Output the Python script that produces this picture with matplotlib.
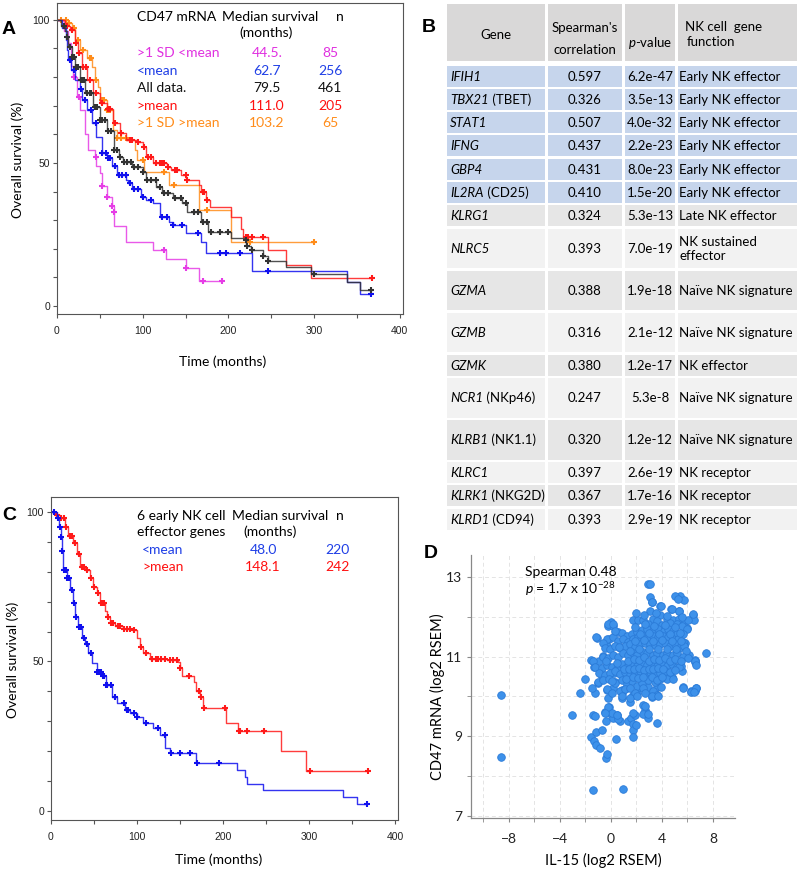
import numpy as np
import matplotlib
matplotlib.use("Agg")
import matplotlib.pyplot as plt
from matplotlib.patches import Rectangle
from matplotlib.ticker import FixedLocator

plt.rcParams['font.family'] = ['Lato', 'DejaVu Sans']
plt.rcParams['mathtext.fontset'] = 'custom'
plt.rcParams['mathtext.rm'] = 'Lato'
plt.rcParams['mathtext.it'] = 'Lato:italic'
plt.rcParams['mathtext.bf'] = 'Lato:bold'

# ---------------- panel A : CD47 mRNA groups (time, survival %) ----------------
mag_t = [0, 8, 13, 16, 19, 23, 27, 33, 36, 44, 46, 50, 52, 58, 64, 66, 67, 81, 112, 127, 150, 166, 193]
mag_s = [100, 96, 92, 84, 80, 73, 68.5, 60, 54.5, 52, 49, 46.5, 42, 38, 35, 33, 28, 22.4, 19.6, 16.4, 13.3, 8.7, 8.7]
mag_c = [20, 26, 45, 52, 58, 64, 66, 125, 150, 170, 193]

blu_t = [0, 6, 10, 12, 13, 16, 21, 27, 29, 35, 41, 46, 52, 58, 64, 70, 81, 83, 88, 98, 104, 112, 120, 131, 135,
         151, 168, 174, 228, 338, 354, 366]
blu_s = [100, 97, 93, 89.5, 86, 82.5, 79, 76, 72, 68.5, 64, 59, 53.5, 51.7, 49, 45.8, 44, 43, 41, 38, 37, 36, 31,
         29.4, 28.3, 25.5, 22.4, 18.5, 12.2, 8.4, 4.2, 4.2]
blu_c = [15, 20, 28, 33, 40, 45, 53, 57, 60, 62, 68, 72, 76, 80, 85, 90, 95, 100, 110, 122, 128, 135, 146, 165,
         190, 197, 213, 246, 366]

all_t = [0, 5, 9, 12, 13, 17, 21, 27, 33, 42, 50, 58, 66, 72, 77, 88, 100, 104, 116, 123, 135, 146, 152, 168, 176,
         203, 219, 221, 226, 240, 246, 267, 296, 338, 354, 366]
all_s = [100, 98, 96, 94, 90.6, 87, 83.6, 79, 74.5, 69.6, 65, 61, 54.5, 52, 50.3, 48.6, 46.9, 44, 41.6, 39.5, 37.8,
         36, 32.9, 29.4, 25.9, 23.7, 23, 21, 19.6, 17.5, 15.7, 13.6, 11.2, 8.4, 5.6, 5.6]
all_c = [8, 12, 15, 18, 20, 22, 25, 28, 30, 32, 35, 38, 40, 44, 47, 50, 53, 56, 60, 63, 66, 70, 74, 78, 82, 86, 90,
         95, 100, 105, 110, 115, 120, 125, 130, 138, 145, 150, 160, 165, 170, 175, 180, 190, 200, 220, 222, 228,
         240, 246, 300, 366]

red_t = [0, 9, 15, 21, 24.5, 29, 35, 42, 50, 58, 65, 73, 81, 93, 100, 104, 112, 128, 133, 145, 151, 166, 168, 174,
         178, 203, 215, 217, 246, 267, 296, 367]
red_s = [100, 98, 96.5, 92, 88.5, 83.6, 79, 74.5, 71, 69, 64, 60.5, 58, 57.3, 55.6, 52, 50, 48.6, 47.5, 45.8, 44,
         42.3, 40, 37, 34.6, 31, 27, 24, 19.6, 14.3, 9.8, 9.8]
red_c = [12, 18, 22, 26, 30, 34, 38, 45, 52, 60, 62, 68, 75, 85, 88, 95, 102, 106, 110, 115, 120, 122, 125, 130,
         138, 140, 150, 152, 170, 172, 175, 220, 223, 227, 240, 367]

org_t = [0, 13, 17, 21, 27, 35, 41, 44, 48, 50, 58, 65, 70, 81, 91, 93, 102, 131, 166, 203, 300]
org_s = [100, 99, 97, 93, 89.5, 86.7, 83.6, 79, 76.6, 72, 68.5, 61.5, 58.7, 58, 54.5, 51, 47, 42.3, 33.6, 22.4, 22.4]
org_c = [5, 10, 14, 20, 25, 30, 38, 40, 45, 52, 55, 58, 60, 62, 70, 75, 80, 100, 125, 137, 175, 225, 300]

a_groups = ['>1 SD <mean', '<mean', 'All data.', '>mean', '>1 SD >mean']
a_median = ['44.5.', '62.7', '79.5', '111.0', '103.2']
a_n = ['85', '256', '461', '205', '65']
a_colors = ['#e030e0', '#1f3fe6', '#111111', '#ff1010', '#ff8c1a']

# ---------------- panel C : 6 early NK effector genes ----------------
clo_t = [0, 7, 9, 11.6, 12.8, 14, 18.6, 22, 25.6, 28, 31, 36, 40, 43, 47.7, 53, 59, 64, 71, 77, 86, 92, 100, 107,
         119, 127, 133, 138, 169, 216, 226, 228, 247, 339, 356, 367]
clo_s = [100, 98, 95, 91.6, 87, 80.6, 78, 74, 69.6, 65, 61.5, 58, 56, 52.8, 49.5, 46.5, 45, 42, 38, 36, 33.8, 32.8,
         31.4, 29.4, 27.8, 25.4, 21, 19.4, 16, 13.7, 11.4, 9, 7, 4.7, 2.3, 2.3]
clo_c = [3, 8, 10, 12, 13, 15, 17, 19, 21, 24, 27, 29, 33, 35, 38, 42, 46, 53, 56, 58, 60, 62, 64, 65, 70, 75, 85,
         88, 90, 97, 100, 110, 125, 132, 140, 150, 162, 170, 195, 367]

chi_t = [0, 5, 10.5, 16, 20, 26, 30, 34, 40, 45, 49, 53, 57, 63, 65, 69, 74, 84, 94, 100, 103.5, 107, 115, 135,
         148, 150, 152, 166, 169, 173, 177, 204, 218, 268, 297, 369]
chi_s = [100, 99, 98, 95, 92, 89.6, 86, 81.6, 80.6, 78, 75, 73, 69.6, 67, 65, 63, 62, 61, 60.5, 58, 55, 52.8, 51,
         50.5, 49.8, 47.8, 45, 43, 40, 38, 34.4, 29.4, 26.8, 20, 13.4, 13.4]
chi_c = [7, 12, 15, 18, 22, 25, 28, 32, 36, 38, 42, 47, 50, 55, 58, 60, 62, 66, 70, 72, 78, 80, 85, 88, 92, 96, 105,
         110, 118, 122, 125, 128, 132, 138, 142, 146, 150, 160, 172, 175, 178, 202, 219, 220, 228, 248, 301, 369]

c_groups = ['<mean', '>mean']
c_median = ['48.0', '148.1']
c_n = ['220', '242']
c_colors = ['#1f3fe6', '#ff1010']

# ---------------- panel B : table ----------------
genes = ['IFIH1', 'TBX21', 'STAT1', 'IFNG', 'GBP4', 'IL2RA', 'KLRG1', 'NLRC5', 'GZMA', 'GZMB', 'GZMK', 'NCR1',
         'KLRB1', 'KLRC1', 'KLRK1', 'KLRD1']
aliases = ['', 'TBET', '', '', '', 'CD25', '', '', '', '', '', 'NKp46', 'NK1.1', '', 'NKG2D', 'CD94']
spearman = [0.597, 0.326, 0.507, 0.437, 0.431, 0.410, 0.324, 0.393, 0.388, 0.316, 0.380, 0.247, 0.320, 0.397,
            0.367, 0.393]
pvals = ['6.2e-47', '3.5e-13', '4.0e-32', '2.2e-23', '8.0e-23', '1.5e-20', '5.3e-13', '7.0e-19', '1.9e-18',
         '2.1e-12', '1.2e-17', '5.3e-8', '1.2e-12', '2.6e-19', '1.7e-16', '2.9e-19']
functions = ['Early NK effector'] * 6 + ['Late NK effector', 'NK sustained\neffector', 'Naïve NK signature',
                                         'Naïve NK signature', 'NK effector', 'Naïve NK signature',
                                         'Naïve NK signature', 'NK receptor', 'NK receptor', 'NK receptor']

# ---------------- panel D : IL-15 vs CD47 (log2 RSEM) ----------------
d_points = [
    (-8.65, 10.03), (-8.65, 8.47), (-3.03, 9.54), (-2.43, 10.09), (-1.39, 7.65), (0.97, 7.67),
    (2.93, 12.81), (3.06, 12.82), (7.43, 11.08), (5.44, 12.52), (5.76, 12.42), (3.1, 12.49), (3.2, 12.36),
    (3.85, 12.27), (4.74, 12.2), (5.3, 12.14), (6.4, 12.05), (3.1, 12.15),
    (-1.57, 10.92), (-1.12, 11.47), (-2.01, 10.44), (-1.33, 10.74), (-0.94, 10.89), (-1.25, 10.08),
    (-1.51, 10.21), (-1.04, 10.34), (-0.72, 10.51), (-0.6, 11.01), (-0.34, 11.26), (-0.16, 11.43),
    (0.0, 11.88), (-0.26, 11.78), (0.13, 11.78),
    (-1.41, 9.54), (-1.28, 9.5), (-1.54, 8.99), (-1.33, 8.88), (-1.17, 8.78), (-0.89, 8.71), (-1.15, 9.11),
    (-0.68, 9.17), (-0.5, 9.6), (-0.42, 9.38), (-0.42, 8.45), (-0.31, 8.56), (-0.16, 9.73), (0.0, 9.56),
    (0.13, 9.46), (0.39, 8.93), (0.5, 9.54), (0.7, 9.39), (0.56, 9.43), (-0.21, 9.97), (-0.34, 10.17),
    (-0.03, 10.14), (0.24, 10.59), (0.58, 10.7), (0.13, 10.22), (0.34, 10.37), (0.86, 9.97), (0.84, 10.15),
    (0.89, 10.09), (1.17, 10.22), (1.36, 9.38), (1.54, 9.45), (1.7, 9.31), (1.88, 9.54), (1.75, 9.16),
    (1.7, 8.98), (1.93, 9.29), (1.49, 9.87), (1.75, 10.04), (2.06, 10.08), (2.22, 10.25), (2.53, 9.79),
    (2.66, 9.66), (2.79, 9.55), (2.92, 9.45), (2.72, 10.14), (2.92, 10.24), (3.18, 9.98), (3.44, 10.08),
    (3.65, 10.25), (3.9, 10.24), (3.57, 10.4), (4.21, 10.48), (4.81, 10.48), (3.65, 9.33), (5.62, 10.25),
    (6.67, 10.22), (6.28, 10.14), (6.56, 10.14), (5.59, 10.63), (6.62, 10.86), (6.56, 10.92), (6.15, 11.05),
    (5.83, 11.34), (5.96, 11.71), (6.48, 11.93),
    (3.24, 12.37), (5.02, 12.52), (5.28, 12.44), (3.92, 12.28), (4.76, 12.2), (5.3, 12.14), (6.42, 12.07),
    (3.87, 12.04), (1.75, 11.93), (2.14, 11.92), (2.53, 11.93), (3.27, 11.95), (3.58, 11.9), (4.37, 11.95),
    (4.89, 11.92), (5.36, 11.95), (5.8, 11.9), (6.06, 11.92), (-0.2, 11.81), (0.14, 11.81), (2.93, 11.81),
    (3.97, 11.79), (4.63, 11.85), (5.15, 11.83), (5.54, 11.76), (5.93, 11.69), (0.57, 11.62), (0.83, 11.6),
    (1.23, 11.52), (1.62, 11.56), (2.01, 11.62), (2.4, 11.67), (2.8, 11.69), (3.32, 11.64), (3.71, 11.69),
    (4.16, 11.64), (4.5, 11.69), (4.84, 11.64), (5.2, 11.58), (5.67, 11.56), (-1.17, 11.48), (-0.34, 11.43),
    (-0.6, 11.35), (0.19, 11.48), (0.57, 11.4), (0.97, 11.43), (1.36, 11.37), (1.75, 11.45), (2.14, 11.48),
    (2.53, 11.52), (2.93, 11.48), (3.32, 11.52), (3.71, 11.48), (4.1, 11.52), (4.5, 11.48), (4.89, 11.43),
    (5.28, 11.45), (5.67, 11.37), (-0.47, 11.22), (-0.08, 11.18), (0.32, 11.27), (0.71, 11.22), (1.1, 11.27),
    (1.49, 11.31), (1.88, 11.25), (2.27, 11.31), (2.67, 11.35), (3.06, 11.31), (3.45, 11.29), (3.84, 11.31),
    (4.24, 11.35), (4.63, 11.27), (5.02, 11.31), (5.36, 11.22), (5.72, 11.27), (5.88, 11.14), (-1.39, 10.9),
    (-0.6, 11.0), (-0.21, 10.96), (0.19, 11.04), (0.58, 11.0), (0.97, 11.08), (1.36, 11.04), (1.7, 11.1),
    (2.06, 11.04), (2.48, 11.12), (2.85, 11.08), (3.27, 11.04), (3.63, 11.1), (4.05, 11.04), (4.42, 11.08),
    (4.84, 11.04), (5.2, 11.08), (5.62, 11.0), (6.06, 10.96), (6.58, 10.88), (6.66, 10.79), (-1.26, 10.73),
    (-0.73, 10.71), (-0.34, 10.79), (0.06, 10.75), (0.45, 10.69), (0.84, 10.81), (1.23, 10.75), (1.62, 10.83),
    (2.01, 10.77), (2.4, 10.85), (2.8, 10.79), (3.19, 10.85), (3.58, 10.77), (3.97, 10.83), (4.37, 10.77),
    (4.76, 10.81), (5.15, 10.75), (5.46, 10.77), (-0.92, 10.6), (-0.47, 10.54), (-0.08, 10.6), (0.32, 10.64),
    (0.71, 10.56), (1.1, 10.62), (1.49, 10.54), (1.88, 10.6), (2.27, 10.64), (2.67, 10.56), (3.06, 10.62),
    (3.45, 10.54), (3.84, 10.6), (4.24, 10.64), (4.42, 10.43), (4.89, 10.45), (5.36, 10.73), (-1.0, 10.37),
    (-0.6, 10.42), (-0.13, 10.43), (0.32, 10.35), (0.84, 10.42), (1.23, 10.31), (1.62, 10.39), (2.01, 10.26),
    (2.4, 10.35), (2.93, 10.42), (3.45, 10.37), (3.84, 10.45), (5.64, 10.22), (6.27, 10.11), (6.69, 10.2),
    (6.53, 10.11), (-0.34, 10.18), (0.06, 10.09), (0.71, 10.14), (1.1, 10.18), (1.49, 10.2), (1.88, 10.09),
    (2.53, 10.2), (2.67, 10.09), (3.32, 10.14), (3.58, 10.03), (3.19, 10.0), (3.71, 10.0), (0.84, 10.0),
    (1.49, 9.97), (2.01, 10.0), (2.67, 9.77), (-0.21, 9.73), (0.06, 9.58), (-0.47, 9.58), (0.45, 9.53),
    (1.75, 9.58), (2.53, 9.56), (2.93, 9.56),
    (1.9, 11.75), (2.3, 11.58), (2.7, 11.82), (3.0, 11.6), (3.4, 11.78), (3.8, 11.56), (4.2, 11.8), (4.6, 11.58),
    (5.0, 11.75), (5.4, 11.6), (1.5, 11.15), (1.9, 11.38), (2.2, 11.2), (2.6, 11.42), (3.0, 11.18), (3.3, 11.4),
    (3.7, 11.2), (4.0, 11.42), (4.4, 11.18), (4.8, 11.38), (5.1, 11.18), (5.5, 11.4), (1.3, 10.9), (1.8, 10.95),
    (2.2, 10.92), (2.6, 10.98), (3.0, 10.9), (3.4, 10.95), (3.8, 10.92), (4.2, 10.96), (4.6, 10.9), (5.0, 10.94),
    (5.5, 10.9), (1.0, 10.68), (1.4, 10.7), (1.8, 10.68), (2.2, 10.72), (2.6, 10.66), (3.0, 10.7), (3.3, 10.68),
    (3.7, 10.72), (4.1, 10.68), (4.6, 10.62), (5.0, 10.66), (1.2, 10.45), (1.7, 10.48), (2.1, 10.47),
    (2.5, 10.48), (3.2, 10.5), (3.6, 10.42), (4.0, 10.5), (2.0, 12.1), (2.6, 12.05), (3.5, 12.1), (4.4, 12.02),
    (5.6, 12.0), (0.3, 11.65), (0.6, 11.25), (0.1, 10.4), (0.5, 10.85), (-0.4, 10.9),
]
il15 = [p[0] for p in d_points]
cd47 = [p[1] for p in d_points]

fig = plt.figure(figsize=(8, 8.75), dpi=100)


def px(x0, y0, x1, y1):
    # pixel box (top-left origin) -> figure rect
    return [x0 / 800, 1 - y1 / 875, (x1 - x0) / 800, (y1 - y0) / 875]


def km_axes(rect, xmax, ylim):
    ax = fig.add_axes(rect)
    ax.set_xlim(0, xmax)
    ax.set_ylim(*ylim)
    for sp in ax.spines.values():
        sp.set_color('#555555')
        sp.set_linewidth(0.8)
    ax.xaxis.set_major_locator(FixedLocator([0, 100, 200, 300, 400]))
    ax.xaxis.set_minor_locator(FixedLocator([50, 150, 250, 350]))
    ax.yaxis.set_major_locator(FixedLocator([0, 50, 100]))
    ax.yaxis.set_minor_locator(FixedLocator([10, 20, 30, 40, 60, 70, 80, 90]))
    ax.tick_params(which='both', direction='out', length=3, width=0.8, color='#555555',
                   labelsize=7.5, labelcolor='#222222', labelfontfamily='Liberation Sans')
    ax.tick_params(axis='x', pad=6)
    ax.tick_params(axis='y', pad=2)
    return ax


def km(ax, t, s, cens, color):
    t = np.asarray(t, float)
    s = np.asarray(s, float)
    ax.step(t, s, where='post', color=color, lw=1.0, alpha=0.85)
    idx = np.searchsorted(t, cens, side='right') - 1
    ax.plot(cens, s[idx], '+', color=color, ms=5, mew=1.5, ls='none')


# panel A
axA = km_axes(px(57, 3, 403, 314), 403.7, (-2.8, 105.9))
km(axA, mag_t, mag_s, mag_c, '#e63ce6')
km(axA, org_t, org_s, org_c, '#ff8c1a')
km(axA, red_t, red_s, red_c, '#ff1a1a')
km(axA, blu_t, blu_s, blu_c, '#1010ee')
km(axA, all_t, all_s, all_c, '#333333')

# panel C
axC = km_axes(px(51, 497, 398, 820), 403.5, (-3.0, 105.0))
km(axC, chi_t, chi_s, chi_c, '#ff1a1a')
km(axC, clo_t, clo_s, clo_c, '#1010ee')

# panel D
axD = fig.add_axes(px(471, 555, 735, 818))
axD.scatter(il15, cd47, s=30, facecolor='#3d91ea', edgecolor='#2b7bd8', linewidths=0.6, zorder=3)
axD.set_xlim(-10.98, 9.73)
axD.set_ylim(6.95, 13.55)
axD.spines['top'].set_visible(False)
axD.spines['right'].set_visible(False)
for sp in ('left', 'bottom'):
    axD.spines[sp].set_color('#888888')
    axD.spines[sp].set_linewidth(0.9)
axD.xaxis.set_major_locator(FixedLocator([-8, -4, 0, 4, 8]))
axD.xaxis.set_minor_locator(FixedLocator([-10, -6, -2, 2, 6]))
axD.yaxis.set_major_locator(FixedLocator([7, 9, 11, 13]))
axD.yaxis.set_minor_locator(FixedLocator([8, 10, 12]))
axD.tick_params(which='both', direction='out', length=3, color='#888888', labelsize=10, labelcolor='#222222')
axD.tick_params(axis='x', pad=8)
axD.grid(which='both', ls=(0, (4, 3)), color='#e4e4e4', lw=0.7, zorder=0)
axD.set_axisbelow(True)

# overlay in pixel coordinates: panel letters, texts, table
ov = fig.add_axes([0, 0, 1, 1])
ov.set_xlim(0, 800)
ov.set_ylim(875, 0)
ov.axis('off')

for lab, x, y in [('A', 9, 30), ('B', 429, 27), ('C', 9, 515), ('D', 431, 553)]:
    ov.text(x, y, lab, fontsize=14, fontweight='bold', family='Liberation Sans', ha='center', va='center')

# axis labels A / C / D
ov.text(18, 160, 'Overall survival (%)', rotation=90, fontsize=10, ha='center', va='center')
ov.text(223, 362, 'Time (months)', fontsize=10, ha='center', va='center')
ov.text(13, 660, 'Overall survival (%)', rotation=90, fontsize=10, ha='center', va='center')
ov.text(219, 860, 'Time (months)', fontsize=10, ha='center', va='center')
ov.text(437, 697, 'CD47 mRNA (log2 RSEM)', rotation=90, fontsize=10.5, ha='center', va='center')
ov.text(603, 860, 'IL-15 (log2 RSEM)', fontsize=10.5, ha='center', va='center')

# legend A
fs = 10
ov.text(137, 17, 'CD47 mRNA', fontsize=fs, va='center')
ov.text(222, 17, 'Median survival', fontsize=fs, va='center')
ov.text(266, 33, '(months)', fontsize=fs, ha='center', va='center')
ov.text(340, 17, 'n', fontsize=fs, ha='center', va='center')
for i in range(len(a_groups)):
    y = 53 + i * 17.6
    ov.text(137, y, a_groups[i], color=a_colors[i], fontsize=fs, va='center')
    ov.text(267, y, a_median[i], color=a_colors[i], fontsize=fs, ha='center', va='center')
    ov.text(330, y, a_n[i], color=a_colors[i], fontsize=fs, ha='center', va='center')

# legend C
ov.text(137, 516, '6 early NK cell', fontsize=fs, va='center')
ov.text(137, 532, 'effector genes', fontsize=fs, va='center')
ov.text(232, 516, 'Median survival', fontsize=fs, va='center')
ov.text(270, 532, '(months)', fontsize=fs, ha='center', va='center')
ov.text(340, 516, 'n', fontsize=fs, ha='center', va='center')
for i in range(len(c_groups)):
    y = 550 + i * 17
    ov.text(142, y, c_groups[i], color=c_colors[i], fontsize=fs, va='center')
    ov.text(263, y, c_median[i], color=c_colors[i], fontsize=fs, ha='center', va='center')
    ov.text(337, y, c_n[i], color=c_colors[i], fontsize=fs, ha='center', va='center')

# panel D annotation
ov.text(525, 572, 'Spearman 0.48', fontsize=10, va='center')
ov.text(525, 589, r'$\mathit{p}$ = 1.7 x 10$^{-28}$', fontsize=10, va='center')

# table B
cols = [(447, 545), (548, 622), (625, 675), (678, 797)]
tfs = 9.5
for c0, c1 in cols:
    ov.add_patch(Rectangle((c0, 4), c1 - c0, 57, facecolor='#d9d8d8', edgecolor='none'))
ov.text(496, 35, 'Gene', fontsize=tfs, ha='center', va='center')
ov.text(585, 28, "Spearman's", fontsize=tfs, ha='center', va='center')
ov.text(585, 50, 'correlation', fontsize=tfs, ha='center', va='center')
ov.text(650, 43, r'$\mathit{p}$-value', fontsize=tfs, ha='center', va='center')
ov.text(685, 27, 'NK cell  gene', fontsize=tfs, va='center')
ov.text(687, 42, 'function', fontsize=tfs, va='center')

tall = {'NLRC5', 'GZMA', 'GZMB', 'NCR1', 'KLRB1'}
y = 65.5
for i, g in enumerate(genes):
    h = 42.0 if g in tall else 23.3
    if i < 6:
        fc = '#c6d5ec'
    elif i % 2 == 0:
        fc = '#e6e6e6'
    else:
        fc = '#f2f2f2'
    for c0, c1 in cols:
        ov.add_patch(Rectangle((c0, y), c1 - c0, h - 2.2, facecolor=fc, edgecolor='none'))
    yc = y + (h - 2.2) / 2 + 0.5
    gt = ov.text(450, yc, g, fontsize=tfs, style='italic', va='center')
    if aliases[i]:
        ov.annotate(' (%s)' % aliases[i], xy=(1, 0), xycoords=gt, fontsize=tfs, ha='left', va='bottom')
    ov.text(585, yc, '%.3f' % spearman[i], fontsize=tfs, ha='center', va='center')
    ov.text(650, yc, pvals[i], fontsize=tfs, ha='center', va='center')
    ov.text(679, yc, functions[i], fontsize=tfs, va='center', linespacing=1.2)
    y += h

fig.savefig('out.png', dpi=100)
